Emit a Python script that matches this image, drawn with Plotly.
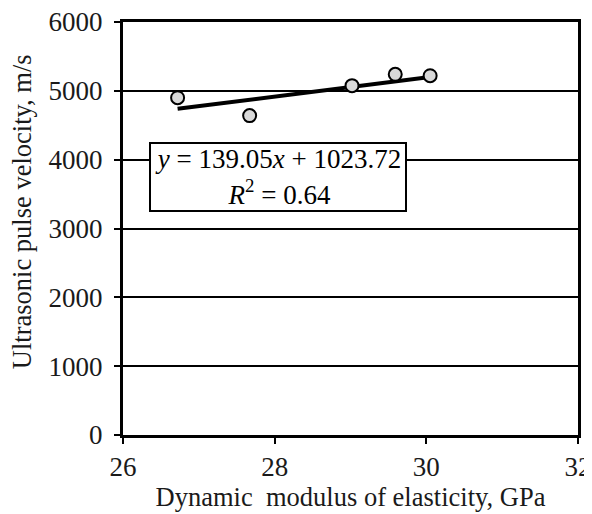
import plotly.graph_objects as go

x_vals = [26.72, 27.67, 29.02, 29.59, 30.05]
y_vals = [4900, 4640, 5075, 5240, 5220]
slope = 139.05
intercept = 1023.72
r2 = 0.64
x_ticks = [26, 28, 30, 32]
y_ticks = [0, 1000, 2000, 3000, 4000, 5000, 6000]

font_family = "Liberation Serif, Times New Roman, serif"
text_color = "#1a1a1a"

tx = [min(x_vals), max(x_vals)]
ty = [slope * v + intercept for v in tx]

fig = go.Figure()
fig.add_trace(go.Scatter(x=tx, y=ty, mode="lines",
                         line=dict(color="black", width=4), showlegend=False))
fig.add_trace(go.Scatter(x=x_vals, y=y_vals, mode="markers",
                         marker=dict(size=13, color="#d9d9d9",
                                     line=dict(color="black", width=2)),
                         showlegend=False))

fig.add_annotation(
    x=28.04, y=3750, xref="x", yref="y",
    text=f"<i>y</i> = {slope:.2f}<i>x</i> + {intercept:.2f}<br><i>R</i><sup>2</sup> = {r2:.2f}",
    showarrow=False, align="center",
    font=dict(family=font_family, size=27, color="black"),
    bgcolor="white", bordercolor="black", borderwidth=2,
    width=252, height=64,
)

# y-axis title (placed slightly above the plot centre, as in the reference)
fig.add_annotation(
    x=-0.222, y=0.542, xref="paper", yref="paper",
    text="Ultrasonic pulse velocity, m/s", textangle=-90,
    showarrow=False, xanchor="center", yanchor="middle",
    font=dict(family=font_family, size=26.5, color=text_color),
)

axis_common = dict(
    showline=True, linecolor="black", linewidth=3, mirror=True,
    ticks="outside", ticklen=6, tickwidth=2, tickcolor="black",
    tickfont=dict(family=font_family, size=27, color=text_color),
    zeroline=False, automargin=False, ticklabeloverflow="allow",
)

fig.update_xaxes(range=[26, 32], tickvals=x_ticks, showgrid=False,
                 title=dict(text="Dynamic  modulus of elasticity, GPa",
                            font=dict(family=font_family, size=26.5, color=text_color),
                            standoff=4),
                 **axis_common)
fig.update_yaxes(range=[0, 6000], tickvals=y_ticks, showgrid=True,
                 gridcolor="black", gridwidth=2, ticklabelstandoff=6,
                 **axis_common)

fig.update_layout(
    width=584, height=506,
    margin=dict(l=115, r=14, t=14, b=79),
    paper_bgcolor="white", plot_bgcolor="white",
)

fig.write_html("out.html")
